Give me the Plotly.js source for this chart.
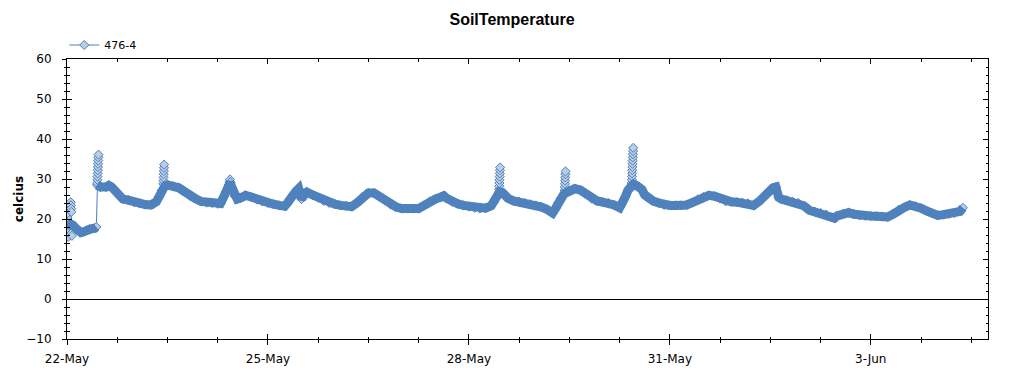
<!DOCTYPE html>
<html><head><meta charset="utf-8">
<script src="https://cdn.plot.ly/plotly-3.0.1.min.js"></script>
<style>html,body{margin:0;padding:0;background:#fff}#chart{width:1024px;height:375px}</style>
</head><body><div id="chart"></div>
<script>
const YEAR = '2010';
const SERIES_NAME = '476-4';

// readings on 22-May before the sensor jump
const preTimes = ['05-22 00:00','05-22 01:00','05-22 02:00','05-22 03:00','05-22 04:00','05-22 05:00','05-22 06:00','05-22 07:00','05-22 08:00','05-22 09:00','05-22 10:00','05-22 10:30'];
const preTemps = [19.0,18.8,18.5,17.8,17.2,16.6,16.8,17.2,17.5,17.6,17.7,18.0];

// regular readings after the jump
const logTimes = [
'05-22 10:45','05-22 12:00','05-22 14:00','05-22 15:00','05-22 16:00','05-22 18:00','05-22 20:00','05-22 22:00',
'05-23 00:00','05-23 02:00','05-23 04:00','05-23 06:00','05-23 07:00','05-23 08:00','05-23 09:00','05-23 10:00','05-23 11:00','05-23 12:00','05-23 14:00','05-23 16:00','05-23 18:00','05-23 20:00','05-23 22:00',
'05-24 00:00','05-24 02:00','05-24 04:00','05-24 06:00','05-24 07:00','05-24 08:00','05-24 09:00','05-24 10:00','05-24 10:30','05-24 11:00','05-24 12:00','05-24 13:00','05-24 14:00','05-24 16:00','05-24 18:00','05-24 20:00','05-24 22:00',
'05-25 00:00','05-25 02:00','05-25 04:00','05-25 06:00','05-25 07:00','05-25 08:00','05-25 09:00','05-25 10:00','05-25 11:00','05-25 12:00','05-25 13:00','05-25 14:00','05-25 16:00','05-25 18:00','05-25 20:00','05-25 22:00',
'05-26 00:00','05-26 02:00','05-26 04:00','05-26 06:00','05-26 08:00','05-26 10:00','05-26 12:00','05-26 14:00','05-26 16:00','05-26 18:00','05-26 20:00','05-26 22:00',
'05-27 00:00','05-27 02:00','05-27 04:00','05-27 06:00','05-27 08:00','05-27 10:00','05-27 12:00','05-27 14:00','05-27 15:00','05-27 16:00','05-27 18:00','05-27 20:00','05-27 22:00',
'05-28 00:00','05-28 02:00','05-28 04:00','05-28 06:00','05-28 08:00','05-28 09:00','05-28 10:00','05-28 11:00','05-28 12:00','05-28 13:00','05-28 14:00','05-28 16:00','05-28 18:00','05-28 20:00','05-28 22:00',
'05-29 00:00','05-29 02:00','05-29 04:00','05-29 06:00','05-29 07:00','05-29 08:00','05-29 09:00','05-29 10:00','05-29 11:00','05-29 12:00','05-29 14:00','05-29 16:00','05-29 18:00','05-29 20:00','05-29 22:00',
'05-30 00:00','05-30 02:00','05-30 04:00','05-30 06:00','05-30 07:00','05-30 08:00','05-30 09:00','05-30 10:00','05-30 11:00','05-30 12:00','05-30 13:00','05-30 14:00','05-30 15:00','05-30 16:00','05-30 18:00','05-30 20:00','05-30 22:00',
'05-31 00:00','05-31 02:00','05-31 04:00','05-31 06:00','05-31 08:00','05-31 10:00','05-31 12:00','05-31 14:00','05-31 16:00','05-31 18:00','05-31 20:00','05-31 22:00',
'06-01 00:00','06-01 02:00','06-01 04:00','06-01 06:00','06-01 08:00','06-01 10:00','06-01 12:00','06-01 13:00','06-01 14:00','06-01 15:00','06-01 16:00','06-01 18:00','06-01 20:00','06-01 22:00',
'06-02 00:00','06-02 02:00','06-02 04:00','06-02 06:00','06-02 08:00','06-02 10:00','06-02 11:00','06-02 12:00','06-02 14:00','06-02 16:00','06-02 18:00','06-02 20:00','06-02 22:00',
'06-03 00:00','06-03 02:00','06-03 04:00','06-03 06:00','06-03 08:00','06-03 10:00','06-03 12:00','06-03 14:00','06-03 16:00','06-03 18:00','06-03 20:00','06-03 22:00',
'06-04 00:00','06-04 02:00','06-04 04:00','06-04 06:00','06-04 08:00','06-04 09:00'
];
const logTemps = [
28.5,28.0,28.0,28.4,28.0,26.5,25.0,24.7,
24.2,23.9,23.6,23.5,23.7,24.3,25.6,27.2,28.2,28.5,28.2,27.8,26.9,25.8,25.1,
24.4,24.1,24.0,23.8,23.9,25.3,26.8,28.5,29.2,28.0,25.8,25.0,25.2,25.9,25.5,24.9,24.4,
24.0,23.7,23.4,23.2,24.0,25.2,26.1,26.9,27.6,25.0,26.0,26.7,26.0,25.3,24.5,24.0,
23.7,23.4,23.3,23.1,24.1,25.6,26.5,26.5,25.6,24.6,23.6,23.0,
22.6,22.6,22.6,22.6,23.4,24.4,25.0,25.5,25.8,25.2,24.3,23.8,23.4,
23.1,22.8,22.6,22.7,23.3,24.2,25.3,26.8,26.6,25.6,25.2,24.5,24.3,24.0,23.7,
23.4,23.0,22.4,21.5,22.6,24.0,25.2,26.2,26.6,27.1,27.6,27.2,26.2,25.1,24.5,
24.2,24.0,23.5,22.8,23.9,25.5,27.2,28.2,28.7,28.4,28.1,27.4,26.0,25.4,24.5,24.0,23.5,
23.4,23.4,23.4,23.5,24.1,24.9,25.5,25.9,25.7,25.1,24.4,24.3,
24.2,24.1,23.9,23.4,24.4,26.0,27.3,27.8,28.0,25.4,25.0,24.7,24.3,24.0,
23.3,22.2,21.8,21.5,21.1,20.4,20.2,20.8,21.3,21.6,21.2,20.9,20.8,
20.75,20.7,20.6,20.5,21.2,22.3,22.9,23.5,23.2,22.7,22.0,21.4,
20.9,21.1,21.3,21.5,21.9,22.8
];

// short bursts of rapid readings (spikes)
const burstTimes = [
'05-22 00:10','05-22 00:15','05-22 00:20','05-22 00:25','05-22 01:20','05-22 01:25','05-22 01:30','05-22 01:35','05-22 01:40','05-22 01:45',
'05-22 10:50','05-22 10:53','05-22 10:56','05-22 10:59','05-22 11:02','05-22 11:05','05-22 11:08','05-22 11:11','05-22 11:14','05-22 11:17',
'05-23 10:30','05-23 10:33','05-23 10:36','05-23 10:39','05-23 10:42','05-23 10:45','05-23 10:48',
'05-24 10:20','05-24 10:25',
'05-28 10:50','05-28 10:53','05-28 10:56','05-28 10:59','05-28 11:02','05-28 11:05','05-28 11:08','05-28 11:11',
'05-29 10:20','05-29 10:23','05-29 10:26','05-29 10:29','05-29 10:32','05-29 10:35','05-29 10:38',
'05-30 10:20','05-30 10:23','05-30 10:26','05-30 10:29','05-30 10:32','05-30 10:35','05-30 10:38','05-30 10:41','05-30 10:44','05-30 10:47','05-30 10:50','05-30 10:53'
];
const burstTemps = [
23.0,21.5,16.5,15.5,24.2,23.4,22.6,21.8,16.5,15.8,
29.0,29.8,30.6,31.4,32.2,33.0,33.8,34.6,35.4,36.1,
28.8,29.6,30.4,31.2,32.0,32.8,33.6,
29.4,29.9,
27.4,28.2,29.0,29.8,30.6,31.4,32.2,32.9,
27.2,28.0,28.8,29.6,30.4,31.2,31.9,
29.0,29.8,30.6,31.4,32.2,33.0,33.8,34.6,35.4,36.2,37.0,37.8
];

const X_RANGE = ['2010-05-22 00:00','2010-06-04 18:00'];
const Y_RANGE = [-10, 60];

const full = t => YEAR + '-' + t;
const pts = [];
preTimes.forEach((t,i)=>pts.push([full(t), preTemps[i]]));
logTimes.forEach((t,i)=>pts.push([full(t), logTemps[i]]));
burstTimes.forEach((t,i)=>pts.push([full(t), burstTemps[i]]));
pts.sort((a,b)=> a[0]<b[0]?-1:(a[0]>b[0]?1:0));

const BLUE = '#4f81bd', LIGHT = '#b9cde5';
const HOUR = 3600000, DAY = 24*HOUR;

const mainTrace = {
  x: pts.map(p=>p[0]), y: pts.map(p=>p[1]),
  type:'scatter', mode:'lines+markers', name: SERIES_NAME,
  line:{color:BLUE, width:1},
  marker:{symbol:'diamond', size:7, color:LIGHT, line:{color:BLUE, width:1}},
  xaxis:'x', yaxis:'y'
};
const bandTrace = {
  x: preTimes.map(full).concat([full(logTimes[0])], logTimes.map(full)),
  y: preTemps.concat([null], logTemps),
  type:'scatter', mode:'lines', showlegend:false, hoverinfo:'skip',
  connectgaps:false,
  line:{color:BLUE, width:9},
  xaxis:'x2', yaxis:'y2'
};

const axisFont = {family:'DejaVu Sans, sans-serif', size:12, color:'#000'};
const layout = {
  width:1024, height:375,
  margin:{l:67, r:36, t:59, b:36, pad:0},
  paper_bgcolor:'#fff', plot_bgcolor:'#fff',
  showlegend:true,
  legend:{x:-0.003, xanchor:'left', y:1.05, yanchor:'middle', orientation:'h',
          font:{family:'DejaVu Sans, sans-serif', size:11, color:'#000'}, bgcolor:'rgba(0,0,0,0)'},
  title:{text:'<b>SoilTemperature</b>', font:{family:'Liberation Sans, Arial, sans-serif', size:16, color:'#000'},
         x:0.5, xref:'container', xanchor:'center', y:1-19/375, yref:'container', yanchor:'middle'},
  xaxis:{type:'date', range:X_RANGE, tick0:'2010-05-22', dtick:3*DAY, tickformat:'%-d-%b',
         ticks:'outside', ticklen:5, tickwidth:1, tickcolor:'#000',
         showline:true, linecolor:'#000', linewidth:1, showgrid:false, zeroline:false,
         tickfont:axisFont, ticklabelstandoff:4, fixedrange:true,
         minor:{tick0:'2010-05-22', dtick:18*HOUR, ticks:'outside', ticklen:2.5, tickcolor:'#000', showgrid:false}},
  xaxis2:{type:'date', range:X_RANGE, overlaying:'x', anchor:'y2', side:'bottom',
          tick0:'2010-05-22', dtick:3*DAY, ticks:'inside', ticklen:5, tickcolor:'#000',
          showline:true, linecolor:'#000', mirror:'ticks', showticklabels:false, showgrid:false, zeroline:false, fixedrange:true,
          minor:{tick0:'2010-05-22', dtick:18*HOUR, ticks:'inside', ticklen:2.5, tickcolor:'#000', showgrid:false}},
  yaxis:{range:Y_RANGE, tick0:0, dtick:10, ticks:'outside', ticklen:4, tickcolor:'#000',
         showline:true, linecolor:'#000', showgrid:false,
         zeroline:true, zerolinecolor:'#000', zerolinewidth:1,
         tickfont:axisFont, ticklabelstandoff:8, fixedrange:true,
         title:{text:'<b>celcius</b>', font:{family:'DejaVu Sans, sans-serif', size:12, color:'#000'}, standoff:0},
         minor:{tick0:0, dtick:2, ticks:'outside', ticklen:2.5, tickcolor:'#000', showgrid:false}},
  yaxis2:{range:Y_RANGE, overlaying:'y', anchor:'x2', side:'left', tick0:0, dtick:10,
          ticks:'inside', ticklen:5, tickcolor:'#000', showline:true, linecolor:'#000', mirror:'ticks',
          showticklabels:false, showgrid:false, zeroline:false, fixedrange:true,
          minor:{tick0:0, dtick:2, ticks:'inside', ticklen:2.5, tickcolor:'#000', showgrid:false}}
};

Plotly.newPlot('chart', [mainTrace, bandTrace], layout, {displayModeBar:false, staticPlot:true});
</script>
</body></html>
